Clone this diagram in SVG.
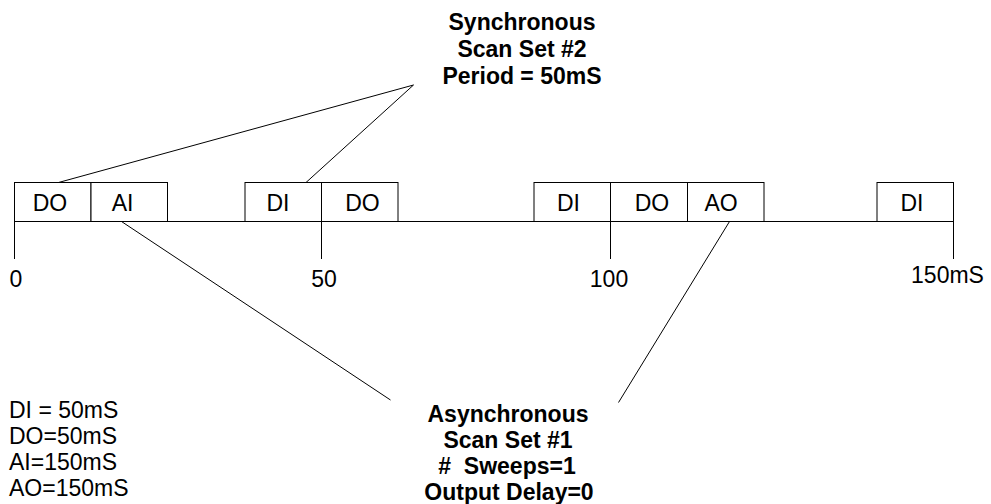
<svg xmlns="http://www.w3.org/2000/svg" width="991" height="504" viewBox="0 0 991 504">
<style>
.ln{stroke:#000;stroke-width:1;fill:none}
.bx{stroke:#000;stroke-width:1;fill:#fff}
.t{font-family:"Liberation Sans",Arial,sans-serif;font-size:23px;fill:#000}
.b{font-family:"Liberation Sans",Arial,sans-serif;font-size:23px;font-weight:bold;fill:#000;text-anchor:middle}
.c{text-anchor:middle}
</style>
<rect width="991" height="504" fill="#fff"/>
<g id="connectors">
<line class="ln" x1="14.5" y1="221.5" x2="953.5" y2="221.5"/>
<line class="ln" x1="14.5" y1="221.5" x2="14.5" y2="259"/>
<line class="ln" x1="321.5" y1="221.5" x2="321.5" y2="259"/>
<line class="ln" x1="610.5" y1="221.5" x2="610.5" y2="259"/>
<line class="ln" x1="953.5" y1="221.5" x2="953.5" y2="259"/>
<line class="ln" x1="413.5" y1="85" x2="58.5" y2="182.5"/>
<line class="ln" x1="413.5" y1="85" x2="306" y2="182.5"/>
<line class="ln" x1="121.5" y1="221.5" x2="390.5" y2="400"/>
<line class="ln" x1="729.5" y1="221.5" x2="618.5" y2="402.5"/>
</g>
<g id="box-do1"><rect class="bx" x="14.5" y="182.5" width="76.5" height="39"/><text class="t c" x="50" y="210.5">DO</text></g>
<g id="box-ai"><rect class="bx" x="91" y="182.5" width="76.5" height="39"/><text class="t c" x="122.5" y="210.5">AI</text></g>
<g id="box-di1"><rect class="bx" x="245" y="182.5" width="76.5" height="39"/><text class="t c" x="278" y="210.5">DI</text></g>
<g id="box-do2"><rect class="bx" x="321.5" y="182.5" width="76.5" height="39"/><text class="t c" x="362.5" y="210.5">DO</text></g>
<g id="box-di2"><rect class="bx" x="534" y="182.5" width="76.5" height="39"/><text class="t c" x="568.5" y="210.5">DI</text></g>
<g id="box-do3"><rect class="bx" x="610.5" y="182.5" width="77" height="39"/><text class="t c" x="652" y="210.5">DO</text></g>
<g id="box-ao"><rect class="bx" x="687.5" y="182.5" width="76.5" height="39"/><text class="t c" x="721" y="210.5">AO</text></g>
<g id="box-di3"><rect class="bx" x="877" y="182.5" width="76.5" height="39"/><text class="t c" x="912" y="210.5">DI</text></g>
<g id="ticks">
<text class="t c" x="16" y="287">0</text>
<text class="t c" x="324" y="287">50</text>
<text class="t c" x="609" y="287">100</text>
<text class="t c" x="947.5" y="283">150mS</text>
</g>
<g id="sync-label">
<text class="b" x="522" y="30">Synchronous</text>
<text class="b" x="522" y="57">Scan Set #2</text>
<text class="b" x="522" y="84">Period = 50mS</text>
</g>
<g id="async-label">
<text class="b" x="508" y="422">Asynchronous</text>
<text class="b" x="508" y="448">Scan Set #1</text>
<text class="b" x="507" y="474" xml:space="preserve">#  Sweeps=1</text>
<text class="b" x="509" y="500">Output Delay=0</text>
</g>
<g id="legend">
<text class="t" x="9" y="418">DI = 50mS</text>
<text class="t" x="9" y="444">DO=50mS</text>
<text class="t" x="9" y="470">AI=150mS</text>
<text class="t" x="9" y="496">AO=150mS</text>
</g>
</svg>
